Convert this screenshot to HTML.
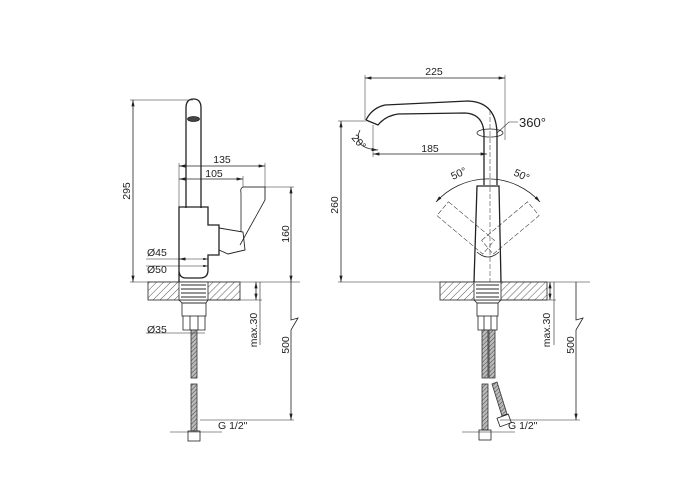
<!DOCTYPE html>
<html><head><meta charset="utf-8"><style>
html,body{margin:0;padding:0;background:#fff;width:700px;height:500px;overflow:hidden}
svg{display:block}
text{font-family:"Liberation Sans",sans-serif;font-size:10.5px;fill:#222;stroke:none}
</style></head><body>
<svg width="700" height="500" viewBox="0 0 700 500">
<defs>
<pattern id="h" patternUnits="userSpaceOnUse" width="5" height="5" patternTransform="rotate(45)">
<rect width="5" height="5" fill="#fff"/><line x1="0" y1="0" x2="0" y2="5" stroke="#555" stroke-width="1"/>
</pattern>
<pattern id="hs" patternUnits="userSpaceOnUse" width="3" height="3" patternTransform="rotate(45)">
<rect width="3" height="3" fill="#bbb"/><line x1="0" y1="0" x2="0" y2="3" stroke="#444" stroke-width="1"/>
</pattern>
<marker id="a" viewBox="0 0 8 4" refX="8" refY="2" markerWidth="8" markerHeight="4" orient="auto-start-reverse"><path d="M0,0L8,2L0,4z" fill="#222"/></marker>
</defs>
<g stroke="#222" fill="none" stroke-width="0.8">
<!-- LEFT VIEW -->
<path d="M186,208 V108 Q186,99 193.5,99 Q201,99 201,108 V208" stroke-width="1.3"/>
<ellipse cx="193.5" cy="119" rx="6" ry="2.5" fill="#444"/>
<path d="M179,282 V207 H208 V225 H219 V255 H208 V270 Q208,278 200,278 H186 Q179,278 179,270" stroke-width="1.3"/>
<path d="M219,228 L243,232 L245,250 L228,254 L219,250" stroke-width="0.9"/>
<path d="M243,187 Q240,188 241,193 V232 M243,187 H265 V200 L240,245" stroke-width="0.8"/>
<line x1="133" y1="100" x2="133" y2="282" marker-start="url(#a)" marker-end="url(#a)"/>
<line x1="130" y1="100" x2="193" y2="100" stroke-width="0.5"/>
<line x1="130" y1="282" x2="300" y2="282" stroke-width="0.6"/>
<text transform="translate(130,191) rotate(-90)" text-anchor="middle">295</text>
<line x1="179" y1="166" x2="265" y2="166" marker-start="url(#a)" marker-end="url(#a)"/>
<line x1="265" y1="163" x2="265" y2="200" stroke-width="0.5"/>
<line x1="179" y1="163" x2="179" y2="207" stroke-width="0.5"/>
<text x="222" y="163" text-anchor="middle">135</text>
<line x1="179" y1="179" x2="243" y2="179" marker-start="url(#a)" marker-end="url(#a)"/>
<line x1="243" y1="176" x2="243" y2="187" stroke-width="0.5"/>
<text x="214" y="177" text-anchor="middle">105</text>
<line x1="243" y1="187" x2="294" y2="187" stroke-width="0.5"/>
<line x1="291" y1="187" x2="291" y2="282" marker-start="url(#a)" marker-end="url(#a)"/>
<text transform="translate(289,234) rotate(-90)" text-anchor="middle">160</text>
<line x1="146" y1="259" x2="208" y2="259" stroke-width="0.6" marker-end="url(#a)"/>
<line x1="179" y1="259" x2="186" y2="259" marker-start="url(#a)"/>
<text x="147" y="256">Ø45</text>
<line x1="146" y1="266" x2="208" y2="266" stroke-width="0.6" marker-end="url(#a)"/>
<text x="147" y="273">Ø50</text>
<rect x="148" y="282" width="92" height="18" fill="url(#h)"/>
<rect x="179" y="282" width="29" height="18" fill="#fff"/>
<g stroke="#555" stroke-width="1.2"><line x1="181" y1="285" x2="206" y2="285"/><line x1="181" y1="289" x2="206" y2="289"/><line x1="181" y1="293" x2="206" y2="293"/><line x1="181" y1="297" x2="206" y2="297"/></g>
<path d="M179,300 L182,303 H206 L208,300"/>
<rect x="182" y="303" width="24" height="13"/>
<path d="M183,316 V330 H205 V316 M190,316 V330 M198,316 V330"/>
<rect x="191" y="330" width="6" height="48" fill="url(#hs)" stroke="#333"/>
<rect x="191" y="384" width="6" height="47" fill="url(#hs)" stroke="#333"/>
<rect x="188" y="431" width="12" height="10"/>
<line x1="146" y1="333" x2="205" y2="333" stroke-width="0.5"/>
<text x="147" y="333">Ø35</text>
<line x1="260" y1="282" x2="260" y2="345" stroke-width="0.6"/>
<line x1="256" y1="282" x2="256" y2="300" marker-start="url(#a)" marker-end="url(#a)"/>
<line x1="208" y1="300" x2="262" y2="300" stroke-width="0.5"/>
<text transform="translate(257,330) rotate(-90)" text-anchor="middle">max.30</text>
<path d="M291,282 V320 L298,318 L291,330 V420" marker-end="url(#a)"/>
<line x1="200" y1="420" x2="294" y2="420" stroke-width="0.5"/>
<text transform="translate(289,345) rotate(-90)" text-anchor="middle">500</text>
<line x1="170" y1="432" x2="222" y2="432" stroke-width="0.5"/>
<text x="218" y="429">G 1/2"</text>

<!-- RIGHT VIEW -->
<path d="M366,120 Q372,108 385,105 L468,101 Q497,102 497,135 V185" stroke-width="1.3"/>
<path d="M366,120 L378,125 Q385,116 398,114 L465,113 Q484,114 484,135 V185" stroke-width="1.3"/>
<path d="M474,282 L477,186 H499 L501,282" stroke-width="1.3"/>
<path d="M477,252 Q488,262 499,252" stroke-width="0.8"/>
<g stroke-width="0.5" stroke-dasharray="5,2">
<line x1="490" y1="110" x2="490" y2="282"/>
<g transform="rotate(-40 488 248)"><rect x="488" y="238" width="60" height="18"/></g>
<g transform="rotate(40 488 248)"><rect x="428" y="238" width="60" height="18"/></g>
</g>
<path d="M436,202 A70,70 0 0 1 540,202" marker-start="url(#a)" marker-end="url(#a)"/>
<text transform="translate(453,180) rotate(-25)">50°</text>
<text transform="translate(513,175) rotate(25)">50°</text>
<line x1="365" y1="78" x2="505" y2="78" marker-start="url(#a)" marker-end="url(#a)"/>
<line x1="365" y1="75" x2="365" y2="120" stroke-width="0.5"/>
<line x1="505" y1="75" x2="505" y2="140" stroke-width="0.5"/>
<text x="434" y="75" text-anchor="middle">225</text>
<line x1="338" y1="121" x2="366" y2="121" stroke-width="0.5"/>
<line x1="341" y1="121" x2="341" y2="282" marker-start="url(#a)" marker-end="url(#a)"/>
<line x1="338" y1="282" x2="590" y2="282" stroke-width="0.6"/>
<text transform="translate(338,205) rotate(-90)" text-anchor="middle">260</text>
<line x1="373" y1="154" x2="487" y2="154" marker-start="url(#a)" marker-end="url(#a)"/>
<text x="430" y="152" text-anchor="middle">185</text>
<line x1="373" y1="125" x2="373" y2="157" stroke-width="0.5"/>
<path d="M360,130 Q352,148 378,150" marker-end="url(#a)"/>
<text transform="translate(351,138) rotate(50)">20°</text>
<ellipse cx="490" cy="133" rx="13" ry="4"/>
<path d="M497,133 L509,122 H518" stroke-width="0.6"/>
<text x="519" y="127" style="font-size:13px">360°</text>
<rect x="440" y="282" width="107" height="18" fill="url(#h)"/>
<rect x="474" y="282" width="27" height="18" fill="#fff"/>
<g stroke="#555" stroke-width="1.2"><line x1="476" y1="285" x2="499" y2="285"/><line x1="476" y1="289" x2="499" y2="289"/><line x1="476" y1="293" x2="499" y2="293"/><line x1="476" y1="297" x2="499" y2="297"/></g>
<path d="M474,300 L477,303 H498 L501,300"/>
<rect x="477" y="303" width="21" height="13"/>
<path d="M478,316 V330 H497 V316 M484,316 V330 M491,316 V330"/>
<rect x="482" y="330" width="6" height="48" fill="url(#hs)" stroke="#333"/>
<rect x="489" y="330" width="6" height="48" fill="url(#hs)" stroke="#333"/>
<rect x="482" y="384" width="6" height="46" fill="url(#hs)" stroke="#333"/>
<path d="M492,384 L497,382 L507,414 L502,416 Z" fill="url(#hs)" stroke="#333"/>
<rect x="479" y="430" width="12" height="10"/>
<g transform="rotate(-20 504 420)"><rect x="498" y="416" width="12" height="9"/></g>
<line x1="554" y1="282" x2="554" y2="345" stroke-width="0.6"/>
<line x1="550" y1="282" x2="550" y2="300" marker-start="url(#a)" marker-end="url(#a)"/>
<line x1="501" y1="300" x2="556" y2="300" stroke-width="0.5"/>
<text transform="translate(550,330) rotate(-90)" text-anchor="middle">max.30</text>
<path d="M576,282 V320 L583,318 L576,330 V420" marker-end="url(#a)"/>
<line x1="500" y1="420" x2="580" y2="420" stroke-width="0.5"/>
<text transform="translate(574,345) rotate(-90)" text-anchor="middle">500</text>
<line x1="462" y1="432" x2="515" y2="432" stroke-width="0.5"/>
<text x="508" y="429">G 1/2"</text>
</g>
</svg>
</body></html>
